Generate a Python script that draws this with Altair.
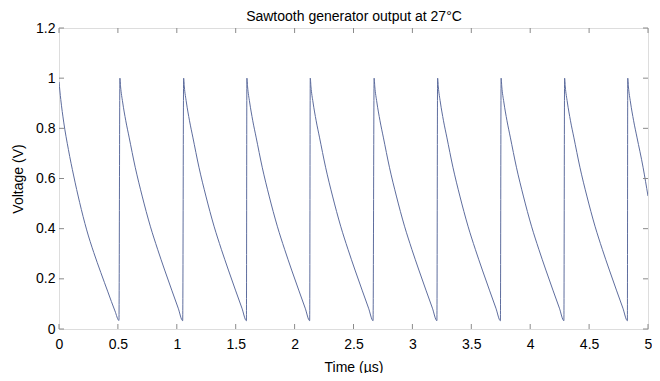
import altair as alt
import pandas as pd

# ---- data ----
# first (partial) cycle, starting at t = 0
first_t = [0.0, 0.015, 0.04, 0.08, 0.125, 0.175, 0.235, 0.295, 0.355, 0.415, 0.475, 0.509]
first_v = [0.985, 0.915, 0.825, 0.715, 0.61, 0.505, 0.395, 0.305, 0.225, 0.148, 0.072, 0.034]

# times (µs) of the reset peaks
peak_times = [0.517, 1.058, 1.595, 2.133, 2.675, 3.214, 3.753, 4.292, 4.828]

# shape of one discharge ramp after a peak: time since peak (µs), voltage (V)
ramp_dt = [0.0, 0.006, 0.023, 0.05, 0.078, 0.13, 0.189, 0.258, 0.32, 0.38, 0.44, 0.495, 0.533]
ramp_v = [1.0, 0.965, 0.905, 0.83, 0.765, 0.645, 0.53, 0.41, 0.318, 0.235, 0.155, 0.083, 0.033]

end_t, end_v = 5.0, 0.53   # value at the right edge

x_ticks = [0, 0.5, 1, 1.5, 2, 2.5, 3, 3.5, 4, 4.5, 5]
y_ticks = [0, 0.2, 0.4, 0.6, 0.8, 1.0, 1.2]
title_text = ["Sawtooth generator output at 27°C"]

# ---- build the table ----
rows = [(t, v) for t, v in zip(first_t, first_v)]
for p in peak_times:
    for dt, v in zip(ramp_dt, ramp_v):
        if p + dt < end_t:
            rows.append((p + dt, v))
rows.append((end_t, end_v))
df = pd.DataFrame(rows, columns=["t", "v"])
df["i"] = range(len(df))

W, H = 589, 301
AX = "#8a8a8a"
FONT = "Liberation Sans"

xs = alt.Scale(domain=[0, 5], nice=False, zero=False)
ys = alt.Scale(domain=[0, 1.2], nice=False)

line = alt.Chart(df).mark_line(color="#5e6d9e", strokeWidth=1, interpolate="monotone",
                               clip=True).encode(
    x=alt.X("t:Q", scale=xs, title="Time (µs)",
            axis=alt.Axis(values=x_ticks, ticks=False, domain=False, grid=False,
                          format="~g",
                          labelFontSize=14, titleFontSize=14, labelPadding=8,
                          titlePadding=9, labelColor="#000", titleColor="#000",
                          titleFontWeight="normal", labelFont=FONT, titleFont=FONT,
                          labelFlush=False)),
    y=alt.Y("v:Q", scale=ys, title="Voltage (V)",
            axis=alt.Axis(values=y_ticks, ticks=False, domain=False, grid=False,
                          format="~g",
                          labelFontSize=14, titleFontSize=14, labelPadding=4,
                          titlePadding=10, labelColor="#000", titleColor="#000",
                          titleFontWeight="normal", labelFont=FONT, titleFont=FONT,
                          labelFlush=False)),
    order="i:Q",
)

xt = pd.DataFrame({"x": x_ticks})
yt = pd.DataFrame({"y": y_ticks})
TL = 5

bot = alt.Chart(xt).mark_rule(color=AX, strokeWidth=1).encode(
    x=alt.X("x:Q", scale=xs), y=alt.value(H), y2=alt.value(H - TL))
top = alt.Chart(xt).mark_rule(color=AX, strokeWidth=1).encode(
    x=alt.X("x:Q", scale=xs), y=alt.value(0), y2=alt.value(TL))
left = alt.Chart(yt).mark_rule(color=AX, strokeWidth=1).encode(
    y=alt.Y("y:Q", scale=ys), x=alt.value(0), x2=alt.value(TL))
right = alt.Chart(yt).mark_rule(color=AX, strokeWidth=1).encode(
    y=alt.Y("y:Q", scale=ys), x=alt.value(W - TL), x2=alt.value(W))

title = alt.Chart(pd.DataFrame({"txt": title_text})).mark_text(
    font=FONT, fontSize=14, color="#000", align="center", baseline="alphabetic"
).encode(text="txt:N", x=alt.value(W / 2 + 0.5), y=alt.value(-7.5))

chart = alt.layer(line, bot, top, left, right, title).properties(
    width=W, height=H,
    autosize=alt.AutoSizeParams(type="none"),
    padding={"left": 51, "top": 20, "right": 4, "bottom": 44},
).configure_view(stroke=AX, strokeWidth=1).configure(background="white")

chart.save("out.html", embed_options={"renderer": "svg", "actions": False})
